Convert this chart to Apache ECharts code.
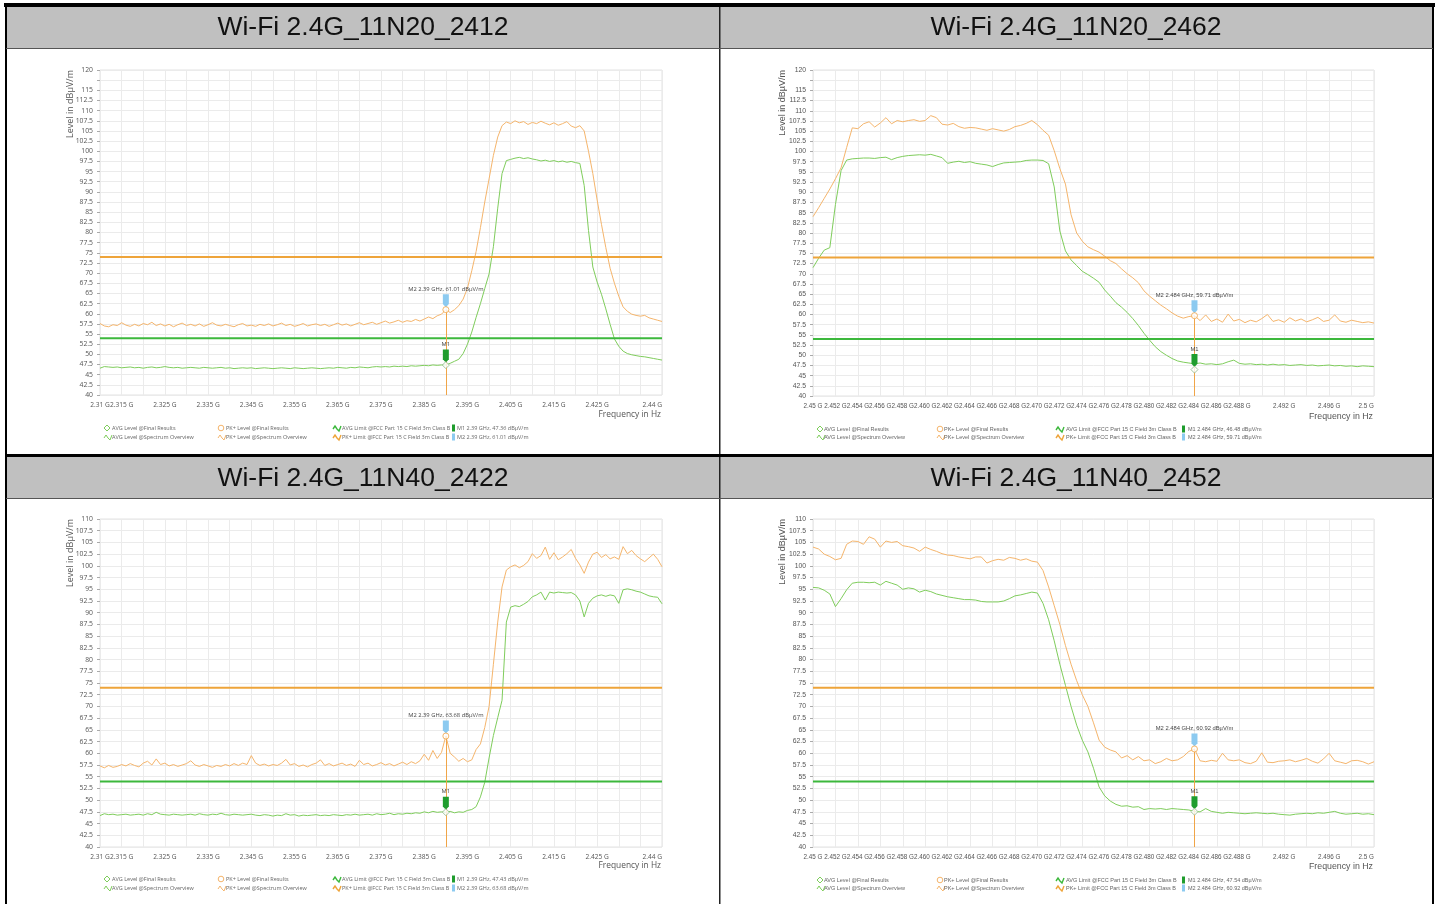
<!DOCTYPE html>
<html>
<head>
<meta charset="utf-8">
<script src="https://cdn.jsdelivr.net/npm/echarts@6.0.0/dist/echarts.min.js"></script>
<style>
html,body{margin:0;padding:0;background:#fff;}
#c{width:1439px;height:904px;}
</style>
</head>
<body>
<div id="c"></div>
<script>
// ---------------- DATA ----------------
const titles = ['Wi-Fi 2.4G_11N20_2412', 'Wi-Fi 2.4G_11N20_2462', 'Wi-Fi 2.4G_11N40_2422', 'Wi-Fi 2.4G_11N40_2452'];

// x tick labels (frequency in MHz -> label)
const lowBandTicks = [2310, 2315, 2325, 2335, 2345, 2355, 2365, 2375, 2385, 2395, 2405, 2415, 2425, 2440];
const lowBandLabels = ['2.31 G', '2.315 G', '2.325 G', '2.335 G', '2.345 G', '2.355 G', '2.365 G', '2.375 G', '2.385 G', '2.395 G', '2.405 G', '2.415 G', '2.425 G', '2.44 G'];
const highBandTicks = [2450, 2452, 2454, 2456, 2458, 2460, 2462, 2464, 2466, 2468, 2470, 2472, 2474, 2476, 2478, 2480, 2482, 2484, 2486, 2488, 2492, 2496, 2500];
const highBandLabels = ['2.45 G', '2.452 G', '2.454 G', '2.456 G', '2.458 G', '2.460 G', '2.462 G', '2.464 G', '2.466 G', '2.468 G', '2.470 G', '2.472 G', '2.474 G', '2.476 G', '2.478 G', '2.480 G', '2.482 G', '2.484 G', '2.486 G', '2.488 G', '2.492 G', '2.496 G', '2.5 G'];

// y tick labels
const yLabels120 = [40, 42.5, 45, 47.5, 50, 52.5, 55, 57.5, 60, 62.5, 65, 67.5, 70, 72.5, 75, 77.5, 80, 82.5, 85, 87.5, 90, 92.5, 95, 97.5, 100, 102.5, 105, 107.5, 110, 112.5, 115, 120];
const yLabels110 = [40, 42.5, 45, 47.5, 50, 52.5, 55, 57.5, 60, 62.5, 65, 67.5, 70, 72.5, 75, 77.5, 80, 82.5, 85, 87.5, 90, 92.5, 95, 97.5, 100, 102.5, 105, 107.5, 110];

// limits (dBuV/m)
const pkLimit = 74;
const avgLimit = 54;

// sweep definitions: start MHz, step MHz
const lowStart = 2310, lowStep = 1;
const highStart = 2450, highStep = 0.5;

// Panel 1: 2412 (2310..2440 MHz, 1 MHz step)
const p1Pk = [
 57.6, 57.0, 56.8, 57.3, 57.1, 57.8, 57.2, 56.9, 57.4, 57.0,
 57.6, 57.3, 57.9, 57.1, 57.5, 57.0, 57.4, 56.8, 57.3, 57.7,
 57.1, 57.4, 57.0, 57.5, 56.9, 57.3, 57.8, 57.2, 57.0, 57.4,
 57.1, 56.8, 57.3, 57.6, 57.0, 57.2, 56.9, 57.4, 57.1, 57.5,
 57.0, 57.3, 57.7, 57.1, 57.4, 56.9, 57.2, 57.6, 57.0, 57.3,
 57.5, 57.1, 57.4, 56.9, 57.3, 57.7, 57.2, 57.5, 57.0, 57.4,
 57.8, 57.3, 57.6, 57.9, 57.4, 57.8, 58.2, 57.7, 58.0, 58.4,
 57.9, 58.3, 58.1, 58.6, 58.2, 58.7, 59.2, 58.8, 59.5, 59.9,
 61.0, 60.3, 61.0, 62.0, 63.6, 66.3, 70.6, 75.3, 81.2, 87.5,
 93.2, 99.0, 103.5, 106.3, 107.2, 106.8, 107.5, 107.0, 107.3, 106.6,
 107.1, 106.8, 107.4, 106.9, 106.5, 107.0, 106.4, 106.8, 107.3, 106.2,
 105.8, 106.3, 105.0, 100.0, 94.5, 88.0, 82.0, 76.3, 71.2, 67.5,
 64.3, 61.7, 60.6, 59.9, 59.6, 59.4, 59.6, 59.0, 58.7, 58.4, 58.1
];
const p1Avg = [
 46.6, 47.0, 46.9, 46.8, 46.9, 46.7, 46.8, 46.9, 46.7, 46.8,
 46.6, 46.8, 46.9, 46.7, 46.8, 47.0, 46.8, 46.7, 46.8, 46.6,
 46.7, 46.8, 46.7, 46.6, 46.8, 46.7, 46.6, 46.7, 46.8, 46.6,
 46.7, 46.5, 46.6, 46.7, 46.6, 46.7, 46.5, 46.6, 46.7, 46.6,
 46.5, 46.6, 46.7, 46.6, 46.5, 46.7, 46.6, 46.5, 46.6, 46.7,
 46.6, 46.5, 46.6, 46.7, 46.6, 46.8, 46.7, 46.6, 46.8, 46.7,
 46.9, 46.8, 46.7, 46.9, 47.0, 46.9, 47.0, 46.9, 47.1, 47.0,
 47.1, 47.0, 47.2, 47.1, 47.2, 47.3, 47.2, 47.4, 47.3, 47.4,
 47.4, 47.8, 48.3, 48.8, 50.2, 52.5, 55.5, 59.1, 62.5, 66.2,
 69.8, 76.5, 86.0, 94.5, 97.7, 98.0, 98.3, 98.5, 98.2, 98.4,
 98.1, 97.9, 97.6, 97.8, 97.5, 97.7, 97.4, 97.6, 97.3, 97.5,
 97.2, 97.0, 91.6, 80.5, 71.5, 67.8, 64.8, 61.2, 57.4, 53.8,
 52.0, 50.8, 50.2, 49.9, 49.7, 49.5, 49.4, 49.2, 49.0, 48.8, 48.6
];

// Panel 2: 2462 (2450..2500 MHz, 0.5 MHz step)
const p2Pk = [
 84.0, 86.2, 88.5, 90.8, 93.3, 96.0, 101.0, 105.8, 105.6, 106.8,
 107.3, 106.0, 107.0, 108.3, 106.8, 107.6, 107.3, 107.6, 107.8, 107.4,
 107.6, 108.8, 108.3, 106.7, 106.5, 106.9, 106.1, 105.7, 105.9, 105.8,
 105.5, 105.2, 105.6, 105.3, 105.0, 105.4, 106.1, 106.4, 106.9, 107.6,
 106.6, 105.2, 104.0, 100.2, 95.8, 92.0, 84.5, 80.0, 78.0, 76.6,
 75.9, 75.3, 74.3, 73.2, 72.5, 71.2, 70.0, 69.0, 67.8, 65.8,
 64.5, 63.4, 62.3, 61.4, 60.4, 59.6, 59.1, 59.5, 59.7, 58.5,
 59.9, 58.3, 58.9, 58.1, 60.1, 58.4, 58.8, 58.0, 58.6, 58.2,
 59.0, 60.0, 58.3, 58.7, 58.1, 59.2, 58.4, 58.9, 58.2, 58.7,
 59.3, 58.3, 58.6, 59.9, 58.4, 58.1, 58.6, 58.3, 58.0, 58.2,
 57.9
];
const p2Avg = [
 71.5, 73.8, 75.8, 76.4, 87.0, 95.3, 97.9, 98.2, 98.3, 98.4,
 98.4, 98.3, 98.5, 98.6, 98.0, 98.5, 98.8, 99.0, 99.1, 99.2,
 99.1, 99.3, 98.9, 98.5, 97.1, 97.4, 97.6, 97.3, 97.5, 97.1,
 96.9, 96.7, 96.3, 96.8, 97.2, 97.3, 97.4, 97.5, 97.8, 97.9,
 97.9, 97.8, 97.0, 91.3, 80.5, 75.6, 73.4, 72.0, 70.6, 69.8,
 68.9, 67.9, 66.0, 64.5, 62.9, 61.8, 60.5, 59.0, 57.3, 55.4,
 53.7, 52.1, 50.9, 50.0, 49.2, 48.6, 48.3, 48.1, 47.9, 48.1,
 47.8, 47.9, 47.7, 47.9, 48.4, 48.8, 48.0, 47.8, 47.9, 47.7,
 47.8, 47.6, 47.8, 47.6, 47.7, 47.5, 47.6, 47.7, 47.5, 47.6,
 47.4, 47.5, 47.6, 47.4, 47.5, 47.3, 47.4, 47.2, 47.4, 47.3,
 47.2
];

// Panel 3: 2422 (2310..2440 MHz, 1 MHz step)
const p3Pk = [
 57.3, 56.9, 57.4, 57.0, 57.2, 57.6, 57.3, 57.8, 57.4, 57.1,
 57.9, 58.3, 57.5, 58.8, 57.6, 57.9, 57.3, 57.6, 57.2, 57.5,
 57.8, 58.4, 57.5, 57.2, 57.6, 57.3, 57.0, 57.4, 57.2, 57.6,
 57.3, 57.8, 57.4, 57.9, 57.6, 59.5, 57.9, 57.4, 57.7, 57.3,
 57.6, 57.4, 57.9, 58.7, 57.5, 57.8, 57.2, 57.5, 57.1, 57.6,
 57.9, 58.6, 57.4, 57.8, 57.3, 57.6, 57.9, 57.4, 57.7, 57.2,
 58.5, 57.6, 57.9, 57.3, 57.6, 58.0, 57.5, 57.8, 57.3, 57.7,
 58.1, 57.6, 58.2, 57.8, 58.4, 59.8, 58.5, 60.6, 58.9, 60.2,
 63.7, 60.0, 59.2, 58.3, 58.9, 58.2, 58.6, 60.8, 62.0, 65.5,
 70.0, 79.0, 88.0, 95.5, 99.1, 99.8, 100.2, 99.6, 100.1, 100.9,
 102.6, 101.6, 102.2, 104.0, 101.4, 102.8, 101.3, 101.9, 102.6, 103.5,
 101.6, 100.2, 98.4, 100.8, 102.5, 102.9, 101.8, 102.4, 101.5, 101.9,
 101.4, 104.1, 102.6, 103.3, 102.2, 101.5, 100.9, 101.7, 102.5, 101.4, 99.8
];
const p3Avg = [
 46.7, 47.1, 46.9, 47.0, 46.8, 46.9, 47.0, 46.8, 46.9, 47.0,
 46.8, 47.1, 46.9, 47.4, 47.0, 46.9, 46.8, 47.0, 46.9, 46.8,
 46.9, 47.0, 46.8, 47.1, 46.9, 46.8, 47.0, 46.9, 47.2, 46.9,
 46.8, 47.0, 46.9, 46.8, 46.9, 47.0, 46.8, 46.7, 46.9, 46.8,
 46.6, 46.8, 46.7, 47.1, 46.8, 46.9, 46.6, 46.8, 46.7, 46.8,
 46.9, 46.7, 46.8, 46.7, 46.9, 46.8, 46.7, 46.9, 46.8, 47.0,
 46.8, 46.9, 47.0, 46.8, 47.1, 46.9, 47.0, 47.2, 46.9, 47.1,
 47.0, 47.2, 47.1, 47.3, 47.2, 47.5, 47.3, 47.6, 47.4, 47.5,
 47.4, 47.6, 47.3, 47.5, 47.4, 47.8, 48.0, 48.6, 50.7, 53.8,
 59.0, 63.8, 67.6, 71.3, 88.0, 91.2, 91.5, 91.3, 91.8, 92.4,
 93.4, 93.8, 94.4, 92.7, 94.4, 94.2, 94.4, 94.3, 94.2, 94.3,
 93.8, 92.5, 89.1, 92.0, 93.1, 93.6, 93.8, 93.5, 93.8, 93.6,
 92.0, 94.9, 95.1, 94.9, 94.6, 94.4, 94.0, 93.6, 93.4, 93.3, 91.9
];

// Panel 4: 2452 (2450..2500 MHz, 0.5 MHz step)
const p4Pk = [
 104.0, 103.6, 102.5, 102.0, 101.3, 101.6, 104.6, 105.3, 105.2, 104.6,
 106.2, 105.7, 104.0, 105.3, 105.0, 105.2, 104.3, 104.1, 103.8, 103.1,
 104.0, 103.5, 103.1, 102.6, 102.3, 102.2, 101.9, 101.7, 101.5, 101.9,
 101.9, 100.6, 101.1, 101.4, 101.2, 101.8, 101.6, 101.2, 101.5, 101.0,
 100.8, 99.0, 95.5, 91.5, 87.5, 83.0, 79.0, 75.5, 72.5, 70.0,
 66.5, 62.8, 61.3, 60.7, 60.3, 59.0, 59.5, 58.6, 59.3, 58.4,
 58.6, 57.8, 58.2, 58.9, 58.4, 58.6, 59.3, 60.4, 60.9, 58.4,
 58.2, 58.5, 58.3, 60.0, 58.6, 58.4, 58.6, 58.0, 57.8, 58.3,
 60.1, 58.1, 58.0, 58.3, 58.4, 58.6, 58.2, 58.5, 58.9, 58.3,
 57.9, 58.8, 60.0, 58.4, 58.1, 57.8, 58.4, 58.5, 58.2, 57.7,
 58.2
];
const p4Avg = [
 95.4, 95.3, 94.8, 94.0, 91.3, 93.0, 94.9, 96.3, 96.5, 96.5,
 96.4, 96.5, 95.9, 96.7, 96.3, 95.9, 95.0, 95.3, 95.1, 94.4,
 94.8, 94.5, 94.0, 93.7, 93.4, 93.2, 93.0, 92.8, 92.8, 92.7,
 92.4, 92.3, 92.3, 92.3, 92.5, 93.0, 93.6, 93.8, 94.1, 94.4,
 94.2, 92.0, 88.5, 84.0, 79.0, 74.5, 70.0, 66.0, 62.8, 60.3,
 56.8, 52.8, 50.9, 49.8, 49.1, 48.7, 48.8, 48.5, 48.6, 48.0,
 48.2, 48.1, 48.2, 48.0, 48.2, 48.1, 48.0, 47.9, 47.6, 47.5,
 48.2, 47.6, 47.4, 47.2, 47.4, 47.3, 47.2, 47.1, 47.2, 47.3,
 47.2, 47.1, 47.2, 47.0, 46.9, 46.8, 47.0, 47.1, 47.2, 47.1,
 47.3, 47.2, 47.4, 47.6, 47.2, 47.0, 47.1, 47.2, 47.0, 47.1,
 46.9
];

// markers
const markerFreq = [2390, 2484, 2390, 2484];
const markerFreqText = ['2.39 GHz', '2.484 GHz', '2.39 GHz', '2.484 GHz'];
const m1Level = [47.36, 46.48, 47.43, 47.54];
const m2Level = [61.01, 59.71, 63.68, 60.92];

// legend names
const nAvgFinal = 'AVG Level @Final Results';
const nPkFinal = 'PK+ Level @Final Results';
const nAvgLimit = 'AVG Limit @FCC Part 15 C Field 3m Class B';
const nPkLimit = 'PK+ Limit @FCC Part 15 C Field 3m Class B';
const nAvgSpec = 'AVG Level @Spectrum Overview';
const nPkSpec = 'PK+ Level @Spectrum Overview';

// ---------------- LAYOUT / STYLE ----------------
const C = {
  pkTrace: '#f5b56c', avgTrace: '#7fcd5c',
  pkLimit: '#eea43a', avgLimit: '#3cb83c',
  m1: '#1f9d2e', m2: '#8ccaf0',
  grid: '#ebebeb', label: '#555'
};
const panels = [
  {left: 100, top: 70, width: 562, height: 325, band: 'low', yMax: 120, yl: yLabels120, pk: p1Pk, avg: p1Avg, font: 'Open Sans', legendY: [428, 437], freqY: 415, iconDx: [4, 118, 233, 352], textDx: [12, 126, 242, 357]},
  {left: 813, top: 70, width: 561, height: 326, band: 'high', yMax: 120, yl: yLabels120, pk: p2Pk, avg: p2Avg, font: 'Liberation Sans', legendY: [429, 437], freqY: 417, iconDx: [4, 124, 243, 369], textDx: [11, 131, 253, 375]},
  {left: 100, top: 519, width: 562, height: 328, band: 'low', yMax: 110, yl: yLabels110, pk: p3Pk, avg: p3Avg, font: 'Open Sans', legendY: [879, 888], freqY: 866, iconDx: [4, 118, 233, 352], textDx: [12, 126, 242, 357]},
  {left: 813, top: 519, width: 561, height: 328, band: 'high', yMax: 110, yl: yLabels110, pk: p4Pk, avg: p4Avg, font: 'Liberation Sans', legendY: [880, 888], freqY: 867, iconDx: [4, 124, 243, 369], textDx: [11, 131, 253, 375]}
];

function pts(start, step, vals) {
  return vals.map((v, i) => [Math.round((start + i * step) * 100) / 100, v]);
}
function txt(x, y, text, font, fill, align, valign, extra) {
  return Object.assign({
    type: 'text', x: x, y: y, silent: true,
    style: {text: text, font: font, fill: fill, align: align, verticalAlign: valign, textAlign: align, textVerticalAlign: valign}
  }, extra || {});
}

const grids = [], xAxes = [], yAxes = [], series = [], graphics = [];

// table frame
graphics.push({type: 'rect', silent: true, shape: {x: 6, y: 7, width: 1427, height: 41}, style: {fill: '#c0c0c0'}});
graphics.push({type: 'rect', silent: true, shape: {x: 6, y: 457, width: 1427, height: 41}, style: {fill: '#c0c0c0'}});
graphics.push({type: 'rect', silent: true, shape: {x: 4, y: 3, width: 1431, height: 4}, style: {fill: '#000'}});
graphics.push({type: 'rect', silent: true, shape: {x: 5, y: 3, width: 2, height: 901}, style: {fill: '#000'}});
graphics.push({type: 'rect', silent: true, shape: {x: 1432, y: 3, width: 2, height: 901}, style: {fill: '#000'}});
graphics.push({type: 'rect', silent: true, shape: {x: 719, y: 7, width: 1.5, height: 897}, style: {fill: '#222'}});
graphics.push({type: 'rect', silent: true, shape: {x: 6, y: 48, width: 1427, height: 1}, style: {fill: '#555'}});
graphics.push({type: 'rect', silent: true, shape: {x: 6, y: 498, width: 1427, height: 1}, style: {fill: '#555'}});
graphics.push({type: 'rect', silent: true, shape: {x: 5, y: 454, width: 1429, height: 3}, style: {fill: '#000'}});
graphics.push(txt(363, 28, titles[0], '26.5px "Liberation Sans"', '#111', 'center', 'middle'));
graphics.push(txt(1076, 28, titles[1], '26.5px "Liberation Sans"', '#111', 'center', 'middle'));
graphics.push(txt(363, 479, titles[2], '26.5px "Liberation Sans"', '#111', 'center', 'middle'));
graphics.push(txt(1076, 479, titles[3], '26.5px "Liberation Sans"', '#111', 'center', 'middle'));

function squiggle(x, y, color, w) {
  return {type: 'polyline', silent: true, shape: {points: [[x, y + 1], [x + 2, y - 2], [x + 4, y + 1], [x + 6, y + 3], [x + 8, y - 2]]}, style: {stroke: color, lineWidth: w, fill: null}};
}

panels.forEach((P, i) => {
  const low = P.band === 'low';
  const x0 = low ? 2310 : 2450, x1 = low ? 2440 : 2500, xi = low ? 5 : 2;
  const xt = low ? lowBandTicks : highBandTicks, xl = low ? lowBandLabels : highBandLabels;
  const start = low ? lowStart : highStart, step = low ? lowStep : highStep;
  const tickFont = low ? 6.6 : 6.3;

  grids.push({left: P.left, top: P.top, width: P.width, height: P.height, show: true, borderColor: '#e2e2e2', borderWidth: 1, backgroundColor: '#fff', containLabel: false, outerBoundsMode: 'none'});
  xAxes.push({
    type: 'value', gridIndex: i, min: x0, max: x1, interval: xi,
    axisLine: {show: false}, axisTick: {show: false},
    splitLine: {show: true, lineStyle: {color: C.grid, width: 1}},
    axisLabel: {
      show: true, margin: 7, fontSize: tickFont, fontFamily: P.font, color: C.label,
      showMinLabel: true, showMaxLabel: true, alignMaxLabel: 'right', hideOverlap: false,
      formatter: function (v) { const k = xt.indexOf(Math.round(v)); return k >= 0 ? xl[k] : ''; }
    }
  });
  yAxes.push({
    type: 'value', gridIndex: i, min: 40, max: P.yMax, interval: 2.5,
    axisLine: {show: false},
    axisTick: {show: true, length: 3, lineStyle: {color: '#aaa'}},
    splitLine: {show: true, lineStyle: {color: C.grid, width: 1}},
    axisLabel: {
      margin: 7, fontSize: 6.8, fontFamily: P.font, color: C.label, hideOverlap: false,
      formatter: function (v) { return P.yl.indexOf(v) >= 0 ? String(v) : ''; }
    }
  });

  const mf = markerFreq[i];
  const m2Text = 'M2 ' + markerFreqText[i] + ', ' + m2Level[i].toFixed(2) + ' dBµV/m';
  const m1Text = 'M1 ' + markerFreqText[i] + ', ' + m1Level[i].toFixed(2) + ' dBµV/m';
  const flag = 'path://M0,0L10,0L10,15L5,20L0,15Z';

  series.push({
    type: 'line', name: nPkSpec, xAxisIndex: i, yAxisIndex: i, data: pts(start, step, P.pk),
    symbol: 'none', showSymbol: false, silent: true, z: 2,
    lineStyle: {color: C.pkTrace, width: 1}, itemStyle: {color: C.pkTrace},
    markLine: {
      silent: true, symbol: ['none', 'none'], label: {show: false},
      lineStyle: {color: '#f0a548', width: 1, type: 'solid'},
      data: [[{coord: [mf, m2Level[i]]}, {coord: [mf, 40]}]]
    }
  });
  series.push({
    type: 'line', name: nAvgSpec, xAxisIndex: i, yAxisIndex: i, data: pts(start, step, P.avg),
    symbol: 'none', showSymbol: false, silent: true, z: 2,
    lineStyle: {color: C.avgTrace, width: 1}, itemStyle: {color: C.avgTrace}
  });
  series.push({
    type: 'line', name: nPkLimit, xAxisIndex: i, yAxisIndex: i, data: [[x0, pkLimit], [x1, pkLimit]],
    symbol: 'none', silent: true, z: 3, lineStyle: {color: C.pkLimit, width: 2}, itemStyle: {color: C.pkLimit}
  });
  series.push({
    type: 'line', name: nAvgLimit, xAxisIndex: i, yAxisIndex: i, data: [[x0, avgLimit], [x1, avgLimit]],
    symbol: 'none', silent: true, z: 3, lineStyle: {color: C.avgLimit, width: 2}, itemStyle: {color: C.avgLimit}
  });
  series.push({
    type: 'scatter', name: nPkFinal, xAxisIndex: i, yAxisIndex: i, data: [[mf, m2Level[i]]],
    symbol: 'circle', symbolSize: 6, silent: true, z: 6,
    itemStyle: {color: '#fff', borderColor: '#f0a548', borderWidth: 1},
    markPoint: {
      silent: true, symbol: flag, symbolSize: [6, 13], symbolOffset: [0, -9],
      itemStyle: {color: C.m2},
      label: {show: true, position: 'top', distance: 2, formatter: m2Text, fontSize: 5.8, fontFamily: P.font, color: '#444'},
      data: [{coord: [mf, m2Level[i]]}]
    }
  });
  series.push({
    type: 'scatter', name: nAvgFinal, xAxisIndex: i, yAxisIndex: i, data: [[mf, m1Level[i]]],
    symbol: 'diamond', symbolSize: 7, silent: true, z: 6,
    itemStyle: {color: '#fff', borderColor: '#8fb88a', borderWidth: 1},
    markPoint: {
      silent: true, symbol: flag, symbolSize: [6, 13], symbolOffset: [0, -9],
      itemStyle: {color: C.m1},
      label: {show: true, position: 'top', distance: 2, formatter: 'M1', fontSize: 5.8, fontFamily: P.font, color: '#444'},
      data: [{coord: [mf, m1Level[i]]}]
    }
  });

  // axis names
  graphics.push(txt(P.left - 30, P.top, 'Level in dBµV/m', '9px "' + P.font + '"', '#555', 'right', 'middle', {rotation: Math.PI / 2}));
  graphics.push(txt(P.left + P.width - 1, P.freqY, 'Frequency in Hz', (low ? '8.4px' : '8.8px') + ' "' + P.font + '"', '#555', 'right', 'middle'));

  // legend
  const lf = '5.5px "' + P.font + '"';
  const r1 = P.legendY[0], r2 = P.legendY[1];
  const ix = P.iconDx.map(d => P.left + d), tx = P.textDx.map(d => P.left + d);
  // row 1
  graphics.push({type: 'polygon', silent: true, shape: {points: [[ix[0] + 3, r1 - 3], [ix[0] + 6, r1], [ix[0] + 3, r1 + 3], [ix[0], r1]]}, style: {fill: null, stroke: C.avgTrace, lineWidth: 1}});
  graphics.push(txt(tx[0], r1, nAvgFinal, lf, '#666', 'left', 'middle'));
  graphics.push({type: 'circle', silent: true, shape: {cx: ix[1] + 3, cy: r1, r: 2.8}, style: {fill: null, stroke: C.pkTrace, lineWidth: 1}});
  graphics.push(txt(tx[1], r1, nPkFinal, lf, '#666', 'left', 'middle'));
  graphics.push(squiggle(ix[2], r1, C.avgLimit, 1.4));
  graphics.push(txt(tx[2], r1, nAvgLimit, lf, '#666', 'left', 'middle'));
  graphics.push({type: 'rect', silent: true, shape: {x: ix[3], y: r1 - 3.5, width: 3, height: 7}, style: {fill: C.m1}});
  graphics.push(txt(tx[3], r1, m1Text, lf, '#666', 'left', 'middle'));
  // row 2
  graphics.push(squiggle(ix[0], r2, C.avgTrace, 1));
  graphics.push(txt(tx[0], r2, nAvgSpec, lf, '#666', 'left', 'middle'));
  graphics.push(squiggle(ix[1], r2, C.pkTrace, 1));
  graphics.push(txt(tx[1], r2, nPkSpec, lf, '#666', 'left', 'middle'));
  graphics.push(squiggle(ix[2], r2, C.pkLimit, 1.4));
  graphics.push(txt(tx[2], r2, nPkLimit, lf, '#666', 'left', 'middle'));
  graphics.push({type: 'rect', silent: true, shape: {x: ix[3], y: r2 - 3.5, width: 3, height: 7}, style: {fill: C.m2}});
  graphics.push(txt(tx[3], r2, m2Text, lf, '#666', 'left', 'middle'));
});

const chart = echarts.init(document.getElementById('c'), null, {renderer: 'canvas', width: 1439, height: 904});
chart.setOption({
  animation: false,
  backgroundColor: '#fff',
  grid: grids,
  xAxis: xAxes,
  yAxis: yAxes,
  series: series,
  graphic: {elements: graphics}
});
</script>
</body>
</html>
